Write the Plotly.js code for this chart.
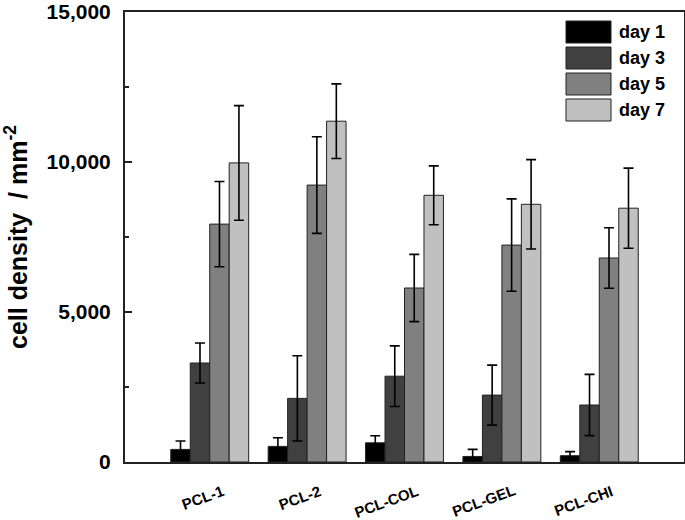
<!DOCTYPE html>
<html>
<head>
<meta charset="utf-8">
<script src="https://cdn.plot.ly/plotly-3.0.1.min.js"></script>
<style>html,body{margin:0;padding:0;background:#fff;}#chart{width:685px;height:520px;}</style>
</head>
<body>
<div id="chart"></div>
<script>
const categories = ["PCL-1", "PCL-2", "PCL-COL", "PCL-GEL", "PCL-CHI"];
const seriesNames = ["day 1", "day 3", "day 5", "day 7"];
const day1 = [420, 520, 640, 185, 210];
const day1Err = [280, 290, 235, 235, 135];
const day3 = [3300, 2120, 2860, 2230, 1900];
const day3Err = [665, 1420, 1010, 1000, 1020];
const day5 = [7930, 9230, 5800, 7230, 6800];
const day5Err = [1420, 1610, 1120, 1540, 1010];
const day7 = [9970, 11360, 8890, 8590, 8460];
const day7Err = [1910, 1245, 980, 1490, 1335];
const yTickVals = [0, 5000, 10000, 15000];
const yTickText = ["0", "5,000", "10,000", "15,000"];

const colors = ["#000000", "#404040", "#808080", "#c0c0c0"];
const values = [day1, day3, day5, day7];
const errs = [day1Err, day3Err, day5Err, day7Err];
const FONT = "Arial, 'Liberation Sans', sans-serif";
const xIdx = categories.map((c, i) => i);

const traces = values.map((v, k) => ({
  type: "bar",
  name: seriesNames[k],
  x: xIdx,
  y: v,
  marker: {color: colors[k], line: {color: "#222222", width: 1}},
  error_y: {type: "data", array: errs[k], visible: true, color: "#000000", thickness: 1.6, width: 5},
  cliponaxis: false,
  showlegend: false
}));

// custom legend (large swatches)
const W = 559, H = 450, L = 125, T = 12;
const shapes = [];
const annotations = [];
seriesNames.forEach((n, k) => {
  const yc = 32 + 26 * k;
  shapes.push({type: "rect", xref: "paper", yref: "paper",
    x0: (566 - L) / W, x1: (611 - L) / W,
    y0: (T + H - (yc - 11)) / H, y1: (T + H - (yc + 11)) / H,
    fillcolor: colors[k], line: {color: "#222222", width: 1}});
  annotations.push({xref: "paper", yref: "paper", x: (617 - L) / W, y: (T + H - yc) / H,
    xanchor: "left", yanchor: "middle", showarrow: false, text: "<b>" + n + "</b>",
    font: {family: FONT, size: 18, color: "#000"}});
});
categories.forEach((c, i) => {
  annotations.push({xref: "x", yref: "paper", x: i + 0.19, y: -0.038, xanchor: "right", yanchor: "top",
    showarrow: false, textangle: -20, text: "<b>" + c + "</b>",
    font: {family: FONT, size: 15, color: "#000"}});
});

const layout = {
  width: 685, height: 520,
  margin: {l: L, r: 1, t: T, b: 58},
  paper_bgcolor: "#ffffff", plot_bgcolor: "#ffffff",
  barmode: "group", bargap: 0.2, bargroupgap: 0,
  font: {family: FONT, color: "#000"},
  xaxis: {
    range: [-0.87, 4.87], tickvals: xIdx, showticklabels: false, ticks: "",
    showline: true, mirror: true, linecolor: "#222", linewidth: 2, showgrid: false, zeroline: false
  },
  yaxis: {
    range: [0, 15000], tickvals: yTickVals, ticktext: yTickText,
    ticks: "inside", ticklen: 7, tickwidth: 1.5, tickcolor: "#222",
    minor: {dtick: 2500, ticks: "inside", ticklen: 4, tickwidth: 1.5, tickcolor: "#222"},
    tickfont: {family: FONT, size: 21, weight: "bold", color: "#000"},
    ticklabelstandoff: 8,
    ticklabeloverflow: "allow",
    showline: true, mirror: true, linecolor: "#222", linewidth: 2, showgrid: false, zeroline: false,
    title: {text: "<b>cell density  / mm<sup>-2</sup></b>", font: {family: FONT, size: 25, color: "#000"}, standoff: 14}
  },
  shapes: shapes,
  annotations: annotations,
  showlegend: false
};

Plotly.newPlot("chart", traces, layout, {displayModeBar: false, staticPlot: true});
</script>
</body>
</html>
